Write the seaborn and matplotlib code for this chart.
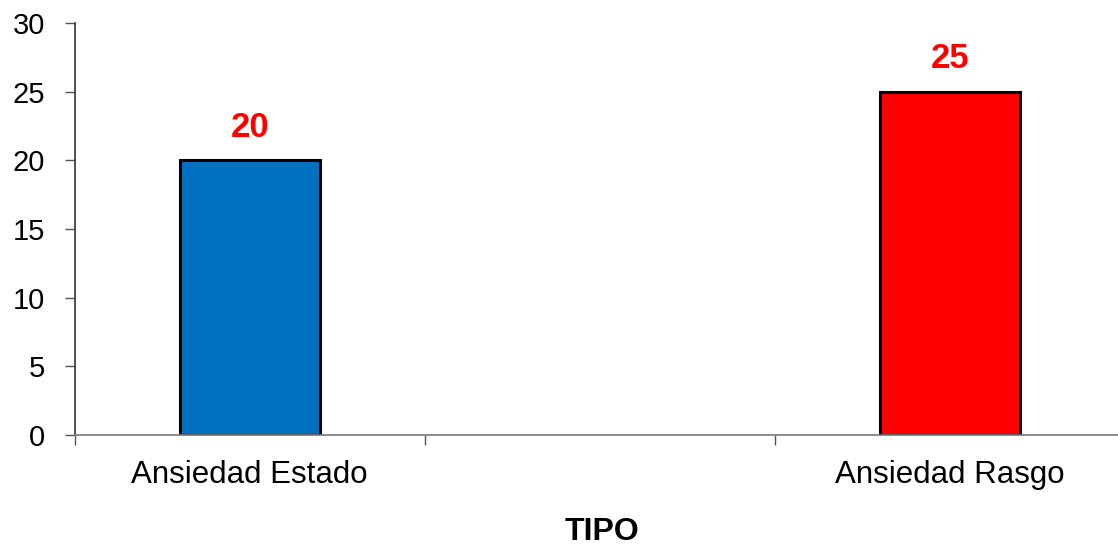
import matplotlib
matplotlib.use("Agg")
import matplotlib.pyplot as plt
import seaborn as sns
import pandas as pd

# Datos
categorias = ["Ansiedad Estado", "Ansiedad Rasgo"]
valores = [20, 25]
orden = ["Ansiedad Estado", "", "Ansiedad Rasgo"]
colores = {"Ansiedad Estado": "#0070C0", "Ansiedad Rasgo": "#FF0000"}
yticks = [0, 5, 10, 15, 20, 25, 30]
titulo_x = "TIPO"

sns.set_style("white", {
    "text.color": "black",
    "axes.labelcolor": "black",
    "xtick.color": "#555555",
    "ytick.color": "#555555",
    "xtick.bottom": True,
    "ytick.left": True,
})
plt.rcParams["font.family"] = ["Liberation Sans", "DejaVu Sans"]

W, H = 1118, 546
fig = plt.figure(figsize=(W / 100, H / 100), dpi=100)
# axes span: left spine at x=74.5 px, zero line at y=434.7 px, top (30) at y=23.3 px
left, right = 74.5, 1125.0
bottom, top = H - 434.7, H - 23.3
ax = fig.add_axes([left / W, bottom / H, (right - left) / W, (top - bottom) / H])

df = pd.DataFrame({"tipo": categorias, "valor": valores})
sns.barplot(data=df, x="tipo", y="valor", hue="tipo", order=orden,
            palette=colores, saturation=1, width=0.4, edgecolor="black",
            linewidth=2.2, legend=False, ax=ax)

for c in ax.containers:
    ax.bar_label(c, fmt="%d", padding=12, color="#FF0000",
                 fontweight="bold", fontsize=25)

ax.set_xlim(-0.5, 2.5)
ax.set_ylim(0, 30)
ax.set_yticks(yticks)
ax.set_yticklabels([str(v) for v in yticks], fontsize=21, color="black")
ax.tick_params(axis="y", left=True, direction="out", length=7.2, width=1.0,
               color="#555555", pad=14)

# category boundary ticks (major) and centred labels (minor)
ax.set_xticks([-0.5, 0.5, 1.5, 2.5])
ax.set_xticklabels([])
ax.set_xticks([0, 2], minor=True)
ax.set_xticklabels(categorias, minor=True, fontsize=22.5, color="black")
ax.tick_params(axis="x", which="major", bottom=True, direction="out",
               length=7.2, width=1.0, color="#555555")
ax.tick_params(axis="x", which="minor", bottom=True, length=0, pad=18)

ax.set_xlabel(titulo_x, fontsize=23, fontweight="bold", color="black")
ax.xaxis.set_label_coords((602 - left) / (right - left), -0.2)
ax.set_ylabel("")

for s in ["top", "right"]:
    ax.spines[s].set_visible(False)
ax.spines["left"].set_color("#333333")
ax.spines["left"].set_linewidth(1.2)
ax.spines["bottom"].set_color("#777777")
ax.spines["bottom"].set_linewidth(1.2)

fig.savefig("out.png", dpi=100)
